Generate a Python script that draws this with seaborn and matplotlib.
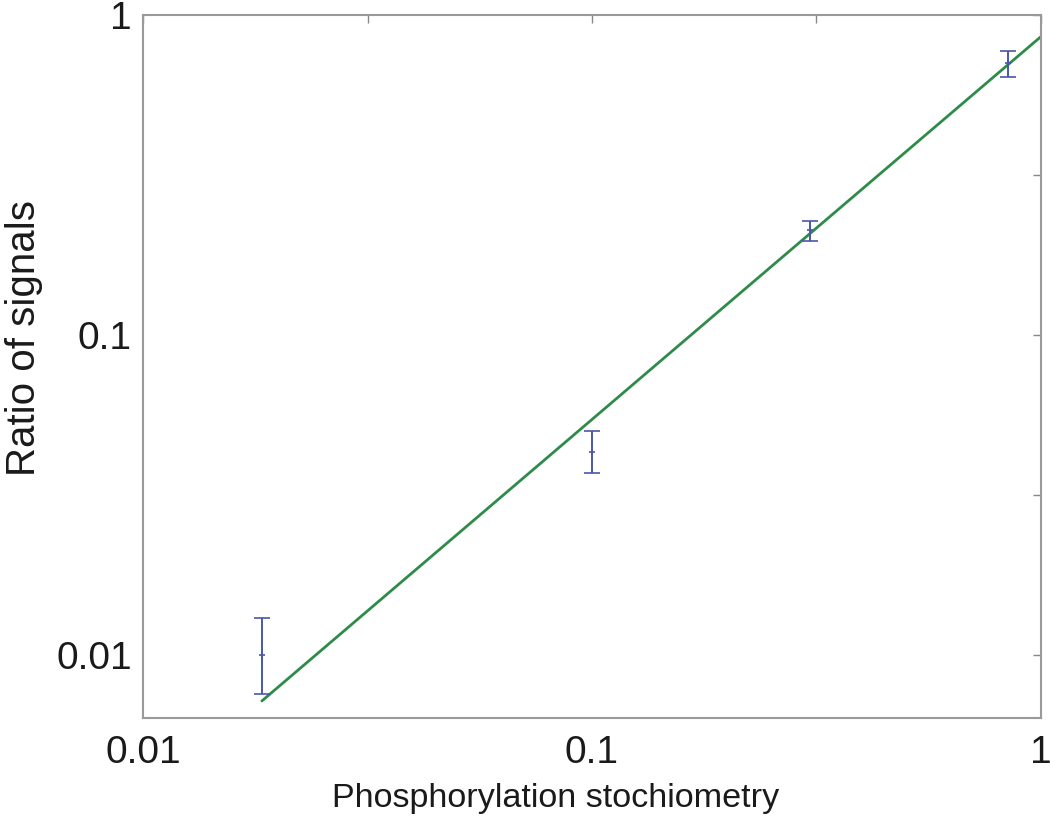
import numpy as np
import pandas as pd
import matplotlib.pyplot as plt
import seaborn as sns

# measured points (stoichiometry vs ratio of signals)
stoich = [0.0184, 0.100, 0.306, 0.846]
ratio = [0.0100, 0.0430, 0.213, 0.708]
ratio_hi = [0.0130, 0.0501, 0.227, 0.773]
ratio_lo = [0.00757, 0.0371, 0.197, 0.641]

# fitted line endpoints
fit_x = [0.0184, 1.0]
fit_y = [0.00718, 0.856]

sns.set_style("white")
plt.rcParams["font.family"] = ["Liberation Sans", "DejaVu Sans"]

fig = plt.figure(figsize=(10.5, 8.27), dpi=100)
ax = fig.add_axes([0.1362, 0.1318, 0.8552, 0.8501])

fit = pd.DataFrame({"x": fit_x, "y": fit_y})
sns.lineplot(data=fit, x="x", y="y", ax=ax, color="#2e8b4a", lw=2.0, zorder=2)

y = np.array(ratio)
yerr = np.vstack([y - np.array(ratio_lo), np.array(ratio_hi) - y])
ax.errorbar(stoich, ratio, yerr=yerr, fmt="+", ms=5, mew=1.2, color="#4a56a8",
            ecolor="#4a56a8", elinewidth=1.4, capsize=5.5, capthick=1.4, zorder=3)

ax.set_xscale("log")
ax.set_yscale("log")
ax.set_xlim(0.01, 1)
ax.set_ylim(0.00635, 1)

ax.set_xticks([0.01, 10 ** -1.5, 0.1, 10 ** -0.5, 1])
ax.set_xticklabels(["0.01", "", "0.1", "", "1"])
ax.set_yticks([10 ** -2, 10 ** -1.5, 0.1, 10 ** -0.5, 1])
ax.set_yticklabels(["0.01", "", "0.1", "", "1"])
ax.minorticks_off()
ax.tick_params(which="major", direction="in", length=6, width=1, color="#888888",
               labelsize=28, top=True, right=True, labelcolor="#1a1a1a")
ax.tick_params(axis="x", pad=12)
ax.tick_params(axis="y", pad=8)

for s in ax.spines.values():
    s.set_color("#999999")
    s.set_linewidth(1.5)

ax.set_xlabel("Phosphorylation stochiometry", fontsize=24.6, color="#1a1a1a")
ax.set_ylabel("Ratio of signals", fontsize=29, color="#1a1a1a")
ax.xaxis.set_label_coords(0.46, -0.0925)
ax.yaxis.set_label_coords(-0.111, 0.541)

fig.savefig("out.png", dpi=100)
